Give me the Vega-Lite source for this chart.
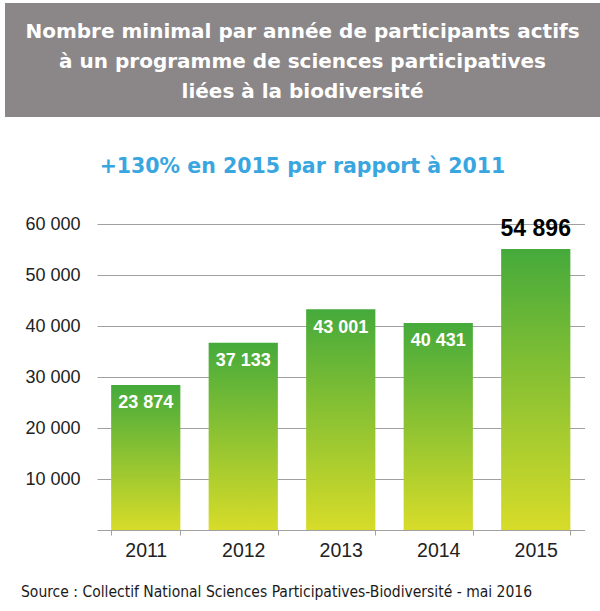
{
  "$schema": "https://vega.github.io/schema/vega-lite/v6.json",
  "background": "white",
  "padding": {"left": 5, "top": 3, "right": 0, "bottom": 0},
  "autosize": {"type": "pad"},
  "config": {
    "font": "Liberation Sans",
    "view": {"stroke": null},
    "locale": {"number": {"decimal": ",", "thousands": " ", "grouping": [3], "currency": ["", " €"]}}
  },
  "spacing": 39,
  "title": {
    "text": "Source : Collectif National Sciences Participatives-Biodiversité - mai 2016",
    "orient": "bottom",
    "anchor": "start",
    "font": "DejaVu Sans Condensed, Liberation Sans",
    "fontSize": 15.5,
    "fontWeight": "normal",
    "color": "#1a1a1a",
    "baseline": "alphabetic",
    "offset": 37,
    "dx": 16
  },
  "vconcat": [
    {
      "width": 595,
      "height": 114,
      "view": {"fill": "#8b8788", "stroke": null},
      "data": {"values": [
        {"ligne": 1, "texte": "Nombre minimal par année de participants actifs"},
        {"ligne": 2, "texte": "à un programme de sciences participatives"},
        {"ligne": 3, "texte": "liées à la biodiversité"}
      ]},
      "mark": {"type": "text", "font": "DejaVu Sans", "fontWeight": "bold", "fontSize": 20, "color": "white", "baseline": "alphabetic", "align": "center", "dy": 8},
      "encoding": {
        "y": {"field": "ligne", "type": "ordinal", "axis": null, "scale": {"padding": 0.9}},
        "text": {"field": "texte"}
      }
    },
    {
      "width": 595,
      "height": 306,
      "title": {
        "text": "+130% en 2015 par rapport à 2011",
        "color": "#3aa6df",
        "font": "DejaVu Sans",
        "fontSize": 20.5,
        "fontWeight": "bold",
        "frame": "group",
        "anchor": "middle",
        "baseline": "alphabetic",
        "offset": 22
      },
      "data": {"values": [
        {"annee": "2011", "participants": 23874, "hauteur": 28450},
        {"annee": "2012", "participants": 37133, "hauteur": 36700},
        {"annee": "2013", "participants": 43001, "hauteur": 43300},
        {"annee": "2014", "participants": 40431, "hauteur": 40600},
        {"annee": "2015", "participants": 54896, "hauteur": 55100}
      ]},
      "encoding": {
        "x": {
          "field": "annee",
          "type": "ordinal",
          "scale": {"range": [92, 579.5], "paddingInner": 0.29, "paddingOuter": 0.145},
          "axis": {
            "title": null,
            "labelAngle": 0,
            "labelFontSize": 19.5,
            "labelColor": "#222222",
            "domainColor": "#a0a0a0",
            "tickColor": "#a0a0a0",
            "tickSize": 5,
            "tickBand": "extent",
            "labelPadding": 21,
            "labelBaseline": "alphabetic",
            "grid": false
          }
        }
      },
      "layer": [
        {
          "mark": {
            "type": "bar",
            "color": {
              "gradient": "linear",
              "x1": 0, "y1": 0, "x2": 0, "y2": 1,
              "stops": [
                {"offset": 0, "color": "#45aa3b"},
                {"offset": 1, "color": "#d7dc29"}
              ]
            }
          },
          "encoding": {
            "y": {
              "field": "hauteur",
              "type": "quantitative",
              "scale": {"domain": [0, 60000]},
              "axis": {
                "title": null,
                "values": [10000, 20000, 30000, 40000, 50000, 60000],
                "format": ",d",
                "domain": false,
                "ticks": false,
                "gridColor": "#a0a0a0",
                "labelFontSize": 18,
                "labelColor": "#222222",
                "labelPadding": 12,
                "offset": -87
              }
            }
          }
        },
        {
          "transform": [{"filter": "datum.annee != '2015'"}],
          "mark": {"type": "text", "color": "white", "fontWeight": "bold", "fontSize": 18, "baseline": "alphabetic", "dy": 23.5},
          "encoding": {
            "y": {"field": "hauteur", "type": "quantitative"},
            "text": {"field": "participants", "type": "quantitative", "format": ",d"}
          }
        },
        {
          "transform": [{"filter": "datum.annee == '2015'"}],
          "mark": {"type": "text", "color": "black", "fontWeight": "bold", "fontSize": 23, "baseline": "alphabetic", "dy": -13},
          "encoding": {
            "y": {"field": "hauteur", "type": "quantitative"},
            "text": {"field": "participants", "type": "quantitative", "format": ",d"}
          }
        }
      ]
    }
  ]
}
